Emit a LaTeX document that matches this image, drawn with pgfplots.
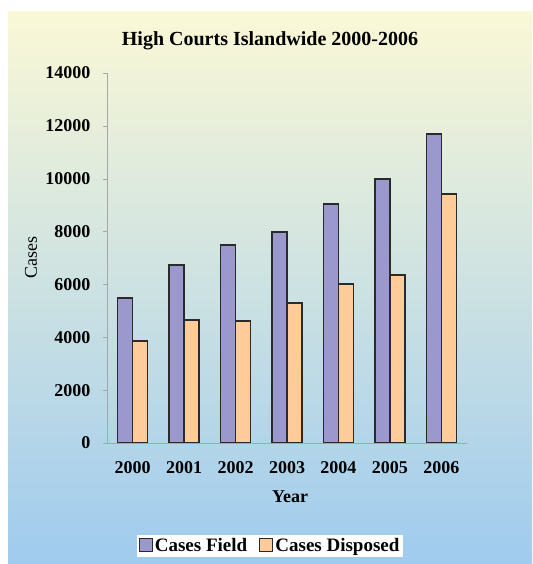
\documentclass[border=0pt]{standalone}
\usepackage{fontspec}
\setmainfont{Liberation Serif}
\usepackage{pgfplots}
\pgfplotsset{compat=1.18}
\definecolor{bgtop}{HTML}{FAF8D6}
\definecolor{bgmid}{HTML}{DDEBE6}
\definecolor{bgbot}{HTML}{9FCBEE}
\definecolor{field}{HTML}{9A98CC}
\definecolor{disp}{HTML}{FFCC99}
\definecolor{edge}{HTML}{2A2A2A}
\begin{document}
\begin{tikzpicture}
\fill[white] (0pt,0pt) rectangle (532pt,564pt);
\shade[top color=bgtop, middle color=bgmid, bottom color=bgbot] (8pt,0pt) rectangle (532pt,552pt);
\begin{axis}[
  at={(107pt,121pt)}, anchor=south west,
  scale only axis, width=360pt, height=370pt,
  ybar=0pt, bar width=15pt,
  xmin=-0.5, xmax=6.5, ymin=0, ymax=14000,
  axis lines*=left,
  axis line style={draw=gray!70, line width=0.6pt},
  xtick=data,
  xticklabels={2000,2001,2002,2003,2004,2005,2006},
  major x tick style={draw=none},
  ytick={0,2000,...,14000},
  major y tick style={draw=gray!70},
  tick align=outside, major tick length=4pt,
  scaled y ticks=false,
  yticklabel style={/pgf/number format/1000 sep={}},
  /pgf/number format/assume math mode=true,
  tick label style={font=\fontsize{18}{20}\selectfont\bfseries},
  xticklabel style={yshift=-11pt},
  yticklabel style={xshift=-9pt},
  legend columns=2,
  legend style={at={(0.453,-0.278)}, anchor=center, draw=none, fill=white,
    font=\fontsize{19}{21}\selectfont\bfseries, inner sep=2pt,
    /tikz/every even column/.append style={column sep=10pt}},
  legend image code/.code={\draw[#1, line width=1.2pt] (0pt,-6pt) rectangle (13pt,7pt);},
]
\addplot[fill=field, draw=edge, line width=1.5pt] coordinates {(0,5480) (1,6730) (2,7490) (3,7980) (4,9040) (5,9990) (6,11690)};
\addplot[fill=disp, draw=edge, line width=1.5pt] coordinates {(0,3860) (1,4650) (2,4610) (3,5300) (4,6010) (5,6350) (6,9420)};
\legend{Cases Field, Cases Disposed}
\end{axis}
\node[font=\fontsize{20}{23}\selectfont\bfseries] at (270pt,523pt) {High Courts Islandwide 2000-2006};
\node[font=\fontsize{18}{20}\selectfont, rotate=90] at (31pt,306pt) {Cases};
\node[font=\fontsize{18}{20}\selectfont\bfseries] at (290pt,67pt) {Year};
\end{tikzpicture}
\end{document}
